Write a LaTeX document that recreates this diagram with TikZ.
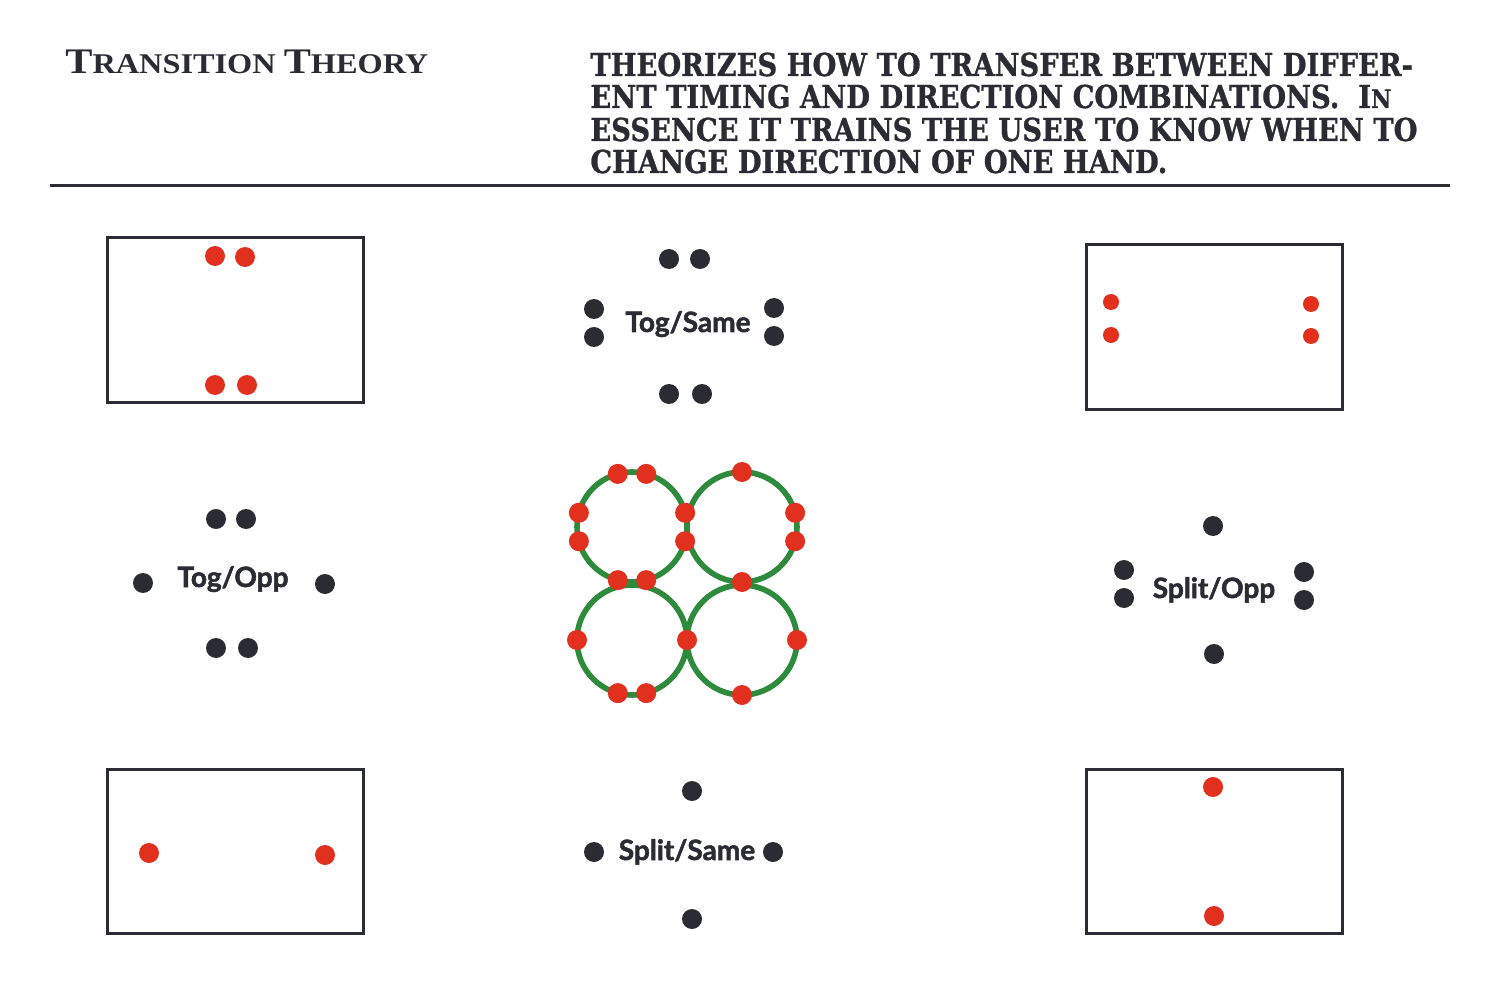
\documentclass[tikz,border=0pt]{standalone}
\usepackage{fontspec}
\usepackage{graphicx}
\newfontfamily\headfont[FakeBold=1]{DejaVu Serif}
\newfontfamily\titlefont{Liberation Serif}
\newfontfamily\labelfont[FakeBold=1.8]{Lato}
\usetikzlibrary{positioning}
\definecolor{ink}{HTML}{2B2B33}
\definecolor{dotred}{HTML}{E2301F}
\definecolor{ringgreen}{HTML}{2E8B3C}
\newcommand{\headtext}[1]{\scalebox{0.865}[1]{#1}}
\tikzset{
    blackdot/.style={circle, fill=ink, inner sep=0pt, minimum size=10pt},
    reddot/.style={circle, fill=dotred, inner sep=0pt, minimum size=10pt},
    smallred/.style={reddot, minimum size=8pt},
    frame/.style={
        draw=ink, line width=1.5pt, inner sep=0pt,
        minimum width=128pt, minimum height=82pt
    },
    ring/.style={
        circle, draw=ringgreen, line width=2.8pt,
        inner sep=0pt, outer sep=0pt, minimum size=55pt
    },
    combo/.style={font=\labelfont\bfseries\fontsize{14}{16}\selectfont, text=ink, inner sep=0pt, anchor=base},
    headline/.style={font=\headfont\bfseries\fontsize{15.8}{18}\selectfont, text=ink, inner sep=0pt, anchor=base west}
}

\begin{document}
\begin{tikzpicture}[x=0.5pt, y=-0.5pt]
\useasboundingbox (0,0) rectangle (1500,984);

% Header
\node[font=\titlefont\bfseries, text=ink, inner sep=0pt, anchor=base west] (title) at (65,74)
    {\scalebox{1.13}[1]{{\fontsize{18}{20}\selectfont T}{\fontsize{14.3}{16}\selectfont RANSITION }{\fontsize{18}{20}\selectfont T}{\fontsize{14.3}{16}\selectfont HEORY}}};
\node[headline] (h1) at (590,76) {\headtext{THEORIZES HOW TO TRANSFER BETWEEN DIFFER-}};
\node[headline] (h2) at (590,108) {\headtext{ENT TIMING AND DIRECTION COMBINATIONS.\ \ I{\fontsize{12.8}{14}\selectfont N}}};
\node[headline] (h3) at (590,141) {\headtext{ESSENCE IT TRAINS THE USER TO KNOW WHEN TO}};
\node[headline] (h4) at (590,173) {\headtext{CHANGE DIRECTION OF ONE HAND.}};
\draw[ink, line width=1.5pt] (50,186) -- (1450,186);

% Frames
\node[frame] (tl) at (235,320) {};
\node[frame] (tr) at (1214.5,327) {};
\node[frame] (bl) at (235.5,851) {};
\node[frame] (br) at (1214.5,851) {};

\node[reddot] (tl1) at (215,256) {};
\node[reddot] (tl2) at (245,257) {};
\node[reddot] (tl3) at (215,385) {};
\node[reddot] (tl4) at (247,385) {};

\node[smallred] (tr1) at (1111,302) {};
\node[smallred] (tr2) at (1111,335) {};
\node[smallred] (tr3) at (1311,304) {};
\node[smallred] (tr4) at (1311,336) {};

\node[reddot] (bl1) at (149,853) {};
\node[reddot] (bl2) at (325,855) {};

\node[reddot] (br1) at (1213,787) {};
\node[reddot] (br2) at (1214,916) {};

% Tog/Same
\node[combo] (togsame) at (688,332) {Tog/Same};
\node[blackdot] (ts1) at (669,259) {};
\node[blackdot] (ts2) at (700,259) {};
\node[blackdot] (ts3) at (594,309) {};
\node[blackdot] (ts4) at (594,337) {};
\node[blackdot] (ts5) at (774,308) {};
\node[blackdot] (ts6) at (774,336) {};
\node[blackdot] (ts7) at (669,394) {};
\node[blackdot] (ts8) at (702,394) {};

% Tog/Opp
\node[combo] (togopp) at (233,587) {Tog/Opp};
\node[blackdot] (to1) at (216,519) {};
\node[blackdot] (to2) at (246,519) {};
\node[blackdot] (to3) at (143,583) {};
\node[blackdot] (to4) at (325,584) {};
\node[blackdot] (to5) at (216,648) {};
\node[blackdot] (to6) at (248,648) {};

% Split/Opp
\node[combo] (splitopp) at (1214,598) {Split/Opp};
\node[blackdot] (so1) at (1213,526) {};
\node[blackdot] (so2) at (1124,570) {};
\node[blackdot] (so3) at (1124,598) {};
\node[blackdot] (so4) at (1304,572) {};
\node[blackdot] (so5) at (1304,600) {};
\node[blackdot] (so6) at (1214,654) {};

% Split/Same
\node[combo] (splitsame) at (687,860) {Split/Same};
\node[blackdot] (ss1) at (692,791) {};
\node[blackdot] (ss2) at (594,852) {};
\node[blackdot] (ss3) at (773,852) {};
\node[blackdot] (ss4) at (692,919) {};

% Rings
\node[ring] (ringA) at (632,527) {};
\node[ring] (ringB) at (742,527) {};
\node[ring] (ringC) at (632,640) {};
\node[ring] (ringD) at (742,640) {};

\foreach \r/\a [count=\i] in {ringA/75, ringA/105, ringA/165, ringA/195,
        ringA/255, ringA/285, ringA/345, ringA/15,
        ringB/90, ringB/345, ringB/15, ringB/270,
        ringC/180, ringC/0, ringC/255, ringC/285,
        ringD/0, ringD/270}
    \node[reddot] (rd\i) at (\r.\a) {};

\end{tikzpicture}
\end{document}
